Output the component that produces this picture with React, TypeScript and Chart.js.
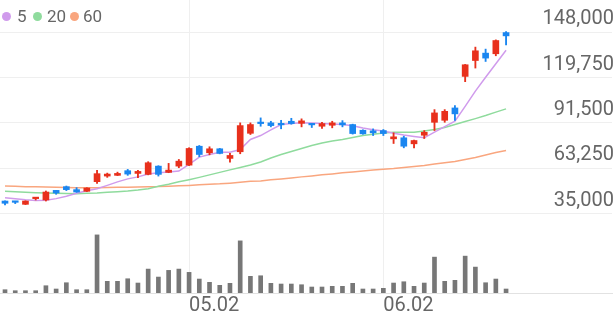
import React, { useEffect, useRef } from 'react';
import { Chart, registerables } from 'chart.js';

Chart.register(...registerables);

const dates = [
  '04.04', '04.05', '04.06', '04.07', '04.10', '04.11', '04.12', '04.13', '04.14', '04.17',
  '04.18', '04.19', '04.20', '04.21', '04.24', '04.25', '04.26', '04.27', '05.02', '05.03',
  '05.04', '05.08', '05.09', '05.10', '05.11', '05.12', '05.15', '05.16', '05.17', '05.18',
  '05.19', '05.22', '05.23', '05.24', '05.25', '05.26', '05.31', '06.02', '06.05', '06.07',
  '06.08', '06.09', '06.12', '06.13', '06.14', '06.15', '06.16', '06.19', '06.20', '06.21',
];

const tickDates = ['05.02', '06.02'];
const priceTicks = [35000, 63250, 91500, 119750, 148000];

const opens = [
  42800, 42650, 40750, 44300, 43450, 49450, 51750, 49900, 48850, 54850,
  58350, 58800, 61700, 60000, 59400, 64550, 60650, 64550, 65150, 76950,
  72850, 75350, 69350, 73500, 85000, 91850, 91500, 91050, 92500, 91250,
  91050, 89400, 90000, 91500, 90450, 86900, 86550, 86700, 81550, 82200,
  78450, 83800, 91850, 93100, 100800, 120450, 130350, 134950, 134550, 147750,
];
const highs = [
  43000, 42650, 42950, 44950, 49050, 49450, 52150, 51150, 51100, 61900,
  60200, 60800, 62500, 61900, 67300, 64800, 66250, 68700, 76000, 77400,
  76600, 75600, 72450, 91500, 91500, 94600, 92500, 93100, 94350, 94000,
  91050, 91850, 92500, 92900, 90700, 87200, 87750, 87350, 85300, 83200,
  80700, 86700, 99750, 99750, 102250, 127900, 138700, 137450, 143200, 148350,
];
const lows = [
  40450, 41200, 40600, 43450, 42800, 47000, 49300, 48200, 48700, 53800,
  57550, 58650, 58800, 57350, 59100, 58350, 60450, 63550, 64900, 70400,
  71600, 72200, 67050, 72250, 84250, 89400, 89000, 87800, 90650, 89000,
  88600, 88000, 88400, 89000, 84500, 84400, 83600, 83600, 78650, 75950,
  75950, 81750, 86700, 91850, 93100, 117150, 125650, 129750, 133300, 140100,
];
const closes = [
  41400, 42000, 42800, 44950, 48400, 47800, 49900, 48400, 50900, 59850,
  59600, 60000, 59600, 61250, 66650, 59400, 62050, 67650, 75550, 71800,
  75350, 72450, 71200, 89800, 90450, 91050, 89800, 90250, 91050, 92750,
  90250, 91050, 91500, 90250, 84850, 84650, 85300, 84850, 82800, 76950,
  80500, 85650, 97700, 98700, 97100, 127700, 136400, 131850, 142800, 145700,
];
const volumes = [
  33000, 23000, 23000, 23000, 73000, 40000, 103000, 33000, 33000, 583000,
  117000, 117000, 143000, 100000, 240000, 160000, 227000, 240000, 207000, 140000,
  107000, 77000, 97000, 523000, 167000, 173000, 97000, 90000, 90000, 83000,
  60000, 60000, 67000, 67000, 97000, 40000, 40000, 47000, 100000, 113000,
  67000, 100000, 360000, 117000, 127000, 370000, 260000, 103000, 140000, 40000,
];
const ma5 = [
  44800, 44200, 43550, 43150, 43300, 44300, 45750, 47600, 49150, 50500,
  52550, 54750, 56600, 57850, 59700, 60450, 60950, 61450, 65600, 70150,
  71800, 73250, 73250, 74900, 81150, 83600, 87100, 90450, 91050, 91500,
  91350, 91050, 90750, 90450, 89650, 88250, 87150, 86400, 85000, 83900,
  83000, 82200, 85700, 89200, 92500, 101800, 111250, 119950, 128300, 136700,
];
const ma20 = [
  48850, 48550, 48200, 47950, 47800, 47600, 47500, 47400, 47600, 47800,
  48200, 48650, 49050, 49650, 50500, 51950, 53200, 54750, 56100, 57550,
  59100, 60650, 62200, 63750, 65300, 67150, 69650, 71800, 73700, 75550,
  77400, 78950, 80200, 81150, 82350, 83600, 84350, 85150, 85600, 85650,
  85650, 86400, 87350, 88600, 90450, 92300, 94150, 96050, 98200, 100200,
];
const ma60 = [
  52150, 51950, 51750, 51650, 51500, 51400, 51250, 51150, 51150, 51150,
  51200, 51350, 51450, 51550, 51700, 51800, 52050, 52300, 52550, 52900,
  53200, 53500, 53950, 54450, 55050, 55350, 56000, 56600, 57200, 57850,
  58450, 59100, 59700, 60350, 60950, 61550, 62200, 62650, 63100, 63750,
  64350, 65000, 65800, 66650, 67450, 68700, 69950, 71500, 73050, 74300,
];

const maLabels = ['5', '20', '60'];
const maColors = ['#d09bec', '#8fdb9d', '#f9a67f'];
const UP = '#e8301c';
const DOWN = '#1a86f0';
const GRID = '#efefef';
const TEXT = '#666666';
const FONT = 'Roboto, "Noto Sans", sans-serif';

const legendCircleLeft = [1.5, 32.5, 69.5];
const legendTextLeft = [17, 47, 83];

export default function App() {
  const ref = useRef<HTMLCanvasElement>(null);

  useEffect(() => {
    document.body.style.margin = '0';
    const canvas = ref.current;
    if (!canvas) return;
    const idx = dates.map((_, i) => i);
    const colors = opens.map((o, i) => (closes[i] >= o ? UP : DOWN));
    const maSeries = [ma5, ma20, ma60];

    const chart = new Chart(canvas, {
      type: 'line',
      data: {
        datasets: [
          {
            type: 'bar',
            label: 'body',
            data: idx.map((i) => ({ x: i, y: [opens[i], closes[i]] })) as any,
            backgroundColor: colors,
            barThickness: 6,
            minBarLength: 1.5,
            grouped: false,
            yAxisID: 'y',
            order: 0,
          } as any,
          {
            type: 'bar',
            label: 'wick',
            data: idx.map((i) => ({ x: i, y: [lows[i], highs[i]] })) as any,
            backgroundColor: colors,
            barThickness: 1.2,
            grouped: false,
            yAxisID: 'y',
            order: 1,
          } as any,
          ...maSeries.map((s, k) => ({
            type: 'line',
            label: maLabels[k],
            data: idx.map((i) => ({ x: i, y: s[i] })),
            borderColor: maColors[k],
            backgroundColor: maColors[k],
            borderWidth: 1.5,
            pointRadius: 0,
            tension: 0,
            fill: false,
            yAxisID: 'y',
            order: 2 + k,
          })) as any,
          {
            type: 'bar',
            label: 'volume',
            data: idx.map((i) => ({ x: i, y: volumes[i] })) as any,
            backgroundColor: '#777777',
            barThickness: 4,
            grouped: false,
            yAxisID: 'yv',
            order: 10,
          } as any,
        ],
      },
      options: {
        responsive: false,
        animation: false,
        devicePixelRatio: 1,
        layout: { padding: { top: 0, left: 0, right: 0, bottom: 2 } },
        plugins: { legend: { display: false }, tooltip: { enabled: false } },
        scales: {
          x: {
            type: 'linear',
            min: -0.49,
            max: 59.36,
            offset: false,
            grid: { color: GRID, drawTicks: false, offset: false },
            border: { display: true, color: '#e2e2e2' },
            afterBuildTicks: (axis: any) => {
              axis.ticks = tickDates.map((d) => ({ value: dates.indexOf(d) }));
            },
            afterFit: (axis: any) => {
              axis.paddingLeft = 0;
              axis.paddingRight = 0;
            },
            ticks: {
              align: 'start',
              padding: 1,
              maxRotation: 0,
              autoSkip: false,
              color: TEXT,
              font: { family: FONT, size: 20 },
              callback: (v: any) => dates[v as number] ?? '',
            },
          } as any,
          y: {
            type: 'linear',
            position: 'right',
            min: -14500,
            max: 168050,
            grid: { color: GRID, drawTicks: false },
            border: { display: false },
            afterBuildTicks: (axis: any) => {
              axis.ticks = priceTicks.map((v) => ({ value: v }));
            },
            afterFit: (axis: any) => {
              axis.paddingTop = 0;
              axis.paddingBottom = 0;
            },
            ticks: {
              mirror: true,
              padding: 2,
              labelOffset: -13,
              color: TEXT,
              font: { family: FONT, size: 20 },
              callback: (v: any) => Number(v).toLocaleString('en-US'),
            },
          } as any,
          yv: {
            type: 'linear',
            display: false,
            min: 0,
            max: 2940000,
          },
        },
      },
    });
    return () => chart.destroy();
  }, []);

  return (
    <div style={{ position: 'fixed', left: 0, top: 0, width: 616, height: 321, background: '#fff' }}>
      <canvas ref={ref} width={616} height={321} style={{ display: 'block', width: 616, height: 321 }} />
      {maLabels.map((l, k) => (
        <React.Fragment key={l}>
          <span
            style={{
              position: 'absolute',
              left: legendCircleLeft[k],
              top: 11.5,
              width: 9,
              height: 9,
              borderRadius: '50%',
              background: maColors[k],
            }}
          />
          <span
            style={{
              position: 'absolute',
              left: legendTextLeft[k],
              top: 8,
              fontFamily: FONT,
              fontSize: 17,
              lineHeight: '17px',
              color: TEXT,
              whiteSpace: 'nowrap',
            }}
          >
            {l}
          </span>
        </React.Fragment>
      ))}
    </div>
  );
}
